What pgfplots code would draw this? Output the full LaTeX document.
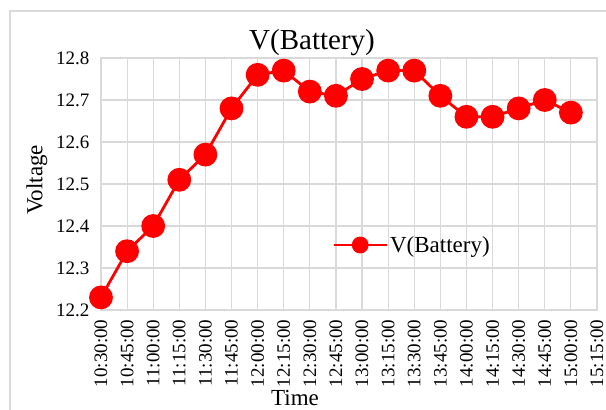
\documentclass[border=0pt]{standalone}
\usepackage{pgfplots}
\pgfplotsset{compat=1.18}
\usepackage{fontspec}
\setmainfont{Liberation Serif}
\definecolor{gridc}{RGB}{217,217,217}
\begin{document}
\begin{tikzpicture}[x=1pt,y=1pt]
\useasboundingbox (0,0) rectangle (606,410);
\draw[gridc, line width=1.2pt] (10,0) -- (10,399) -- (606,399);
\begin{axis}[at={(101pt,100pt)}, anchor=south west,
  width=496pt, height=252pt, scale only axis,
  xmin=0, xmax=19, ymin=12.2, ymax=12.8,
  ytick={12.2,12.3,12.4,12.5,12.6,12.7,12.8},
  xtick={0,1,...,19},
  xticklabels={10:30:00,10:45:00,11:00:00,11:15:00,11:30:00,11:45:00,12:00:00,12:15:00,12:30:00,12:45:00,13:00:00,13:15:00,13:30:00,13:45:00,14:00:00,14:15:00,14:30:00,14:45:00,15:00:00,15:15:00},
  x tick label style={rotate=90, anchor=east, xshift=-6pt},
  y tick label style={xshift=-8pt},
  yticklabel style={/pgf/number format/fixed, /pgf/number format/precision=1, /pgf/number format/fixed zerofill},
  /pgf/number format/assume math mode=true,
  tick label style={font=\fontsize{19}{21}\selectfont, text=black},
  grid=major,
  major grid style={gridc, line width=1.2pt},
  axis line style={gridc, line width=1.2pt},
  major tick length=0pt,
  clip=false,
  legend style={at={(0.466,0.258)}, anchor=west, draw=none, fill=none, inner sep=0pt,
    font=\fontsize{23}{25}\selectfont,
    /tikz/every even column/.append style={column sep=0pt}},
  legend cell align=left,
  legend image code/.code={\draw[mark repeat=2,mark phase=2,#1,mark size=7pt] plot coordinates {(0pt,0pt) (26.5pt,0pt) (53pt,0pt)};},
]
\addplot[red, line width=2.8pt, mark=*, mark size=10.5pt, mark options={fill=red, draw=red, solid}] coordinates {
(0,12.23) (1,12.34) (2,12.40) (3,12.51) (4,12.57) (5,12.68) (6,12.76) (7,12.77) (8,12.72) (9,12.71)
(10,12.75) (11,12.77) (12,12.77) (13,12.71) (14,12.66) (15,12.66) (16,12.68) (17,12.70) (18,12.67)
};
\addlegendentry{V(Battery)}
\end{axis}
\node[font=\fontsize{29}{31}\selectfont] at (312,367) {V(Battery)};
\node[font=\fontsize{23}{25}\selectfont, rotate=90] at (37,230) {Voltage};
\node[font=\fontsize{23}{25}\selectfont] at (295,12) {Time};
\end{tikzpicture}
\end{document}
